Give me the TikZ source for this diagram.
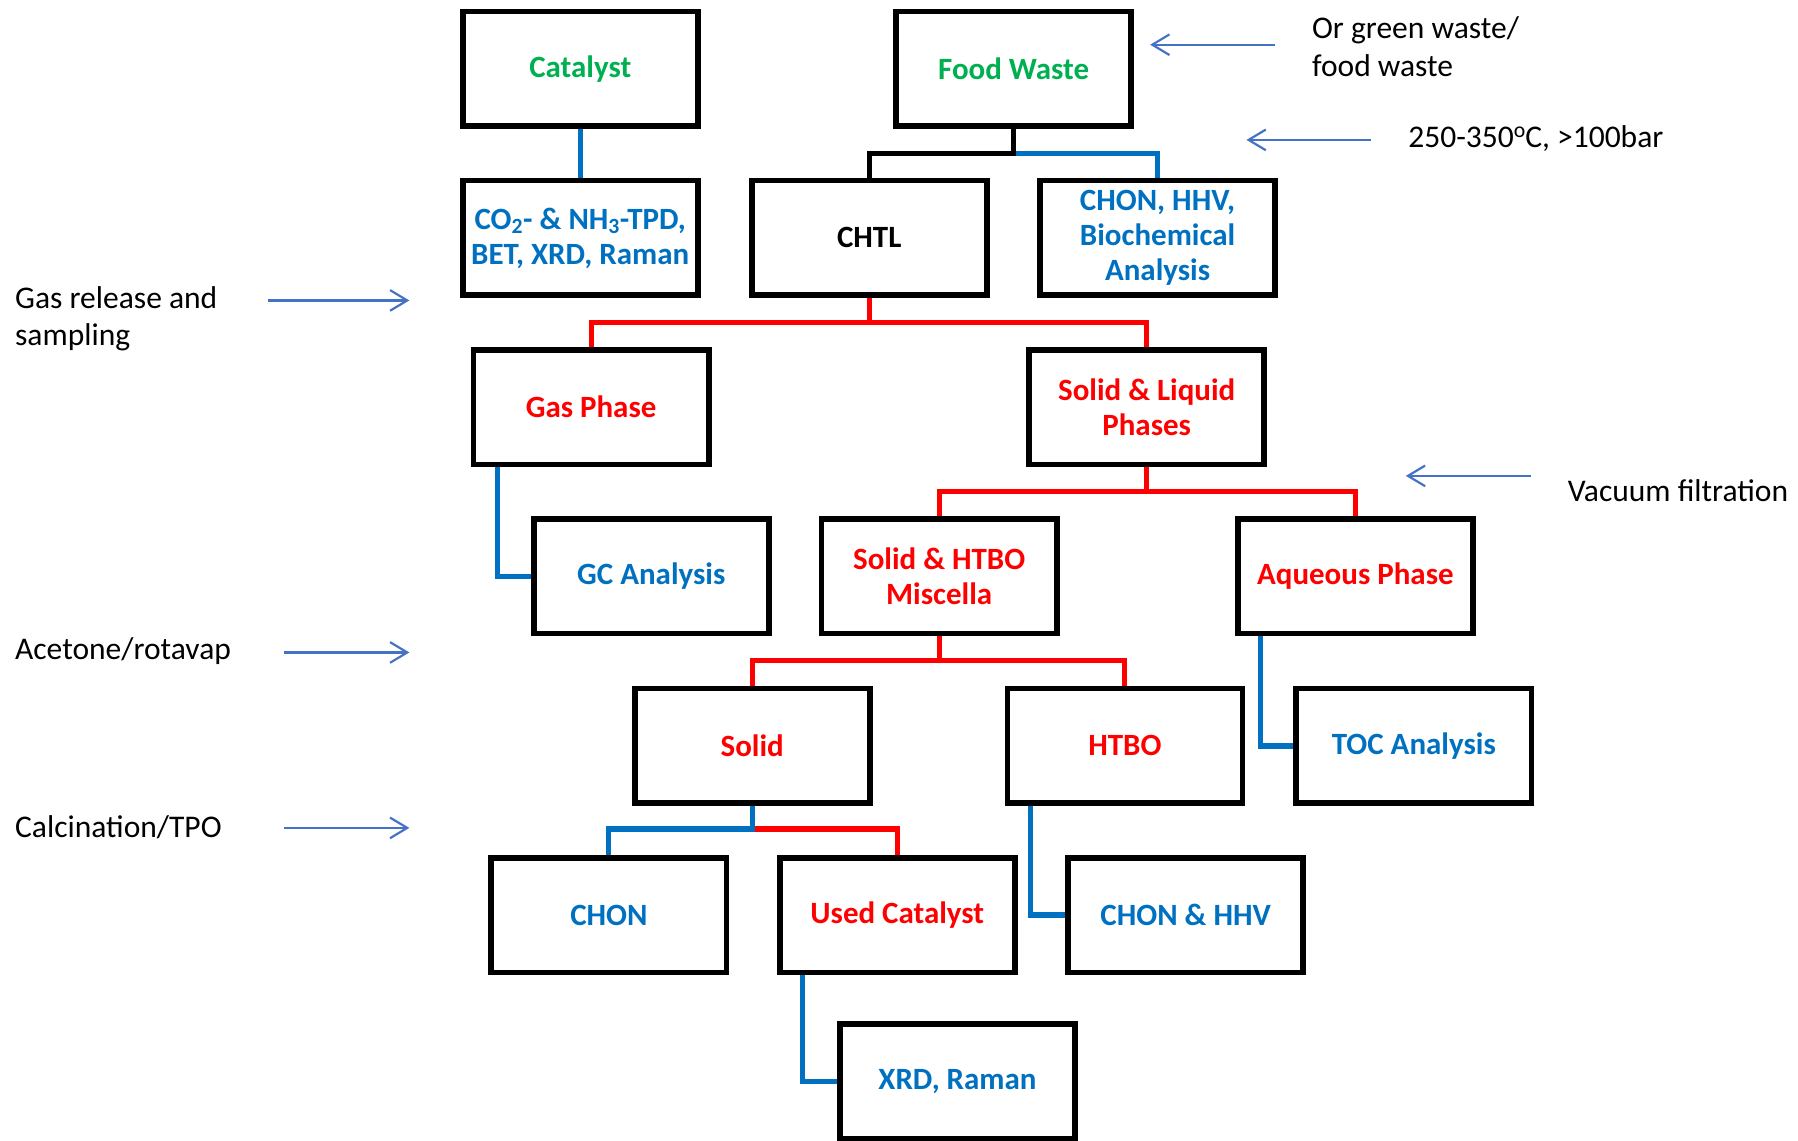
\documentclass[tikz,border=0pt]{standalone}
\usepackage{fontspec}
\setmainfont{Carlito}
\usetikzlibrary{arrows.meta}
\definecolor{cgreen}{HTML}{00B050}
\definecolor{cblue}{HTML}{0070C0}
\definecolor{cred}{HTML}{FF0000}
\definecolor{carrow}{HTML}{4472C4}
\begin{document}
\begin{tikzpicture}[x=1pt,y=-1pt,
  box/.style={draw=black, line width=5pt, minimum width=205pt, minimum height=100pt, inner sep=0pt, align=center, font=\bfseries\fontsize{27}{30.5}\selectfont},
  gtxt/.style={text=cgreen}, btxt/.style={text=cblue}, rtxt/.style={text=cred},
  bline/.style={draw=cblue, line width=4.5pt},
  rline/.style={draw=cred, line width=4.5pt},
  kline/.style={draw=black, line width=4.5pt},
  note/.style={font=\fontsize{27.5}{33}\selectfont, align=left, inner sep=0pt},
  notearrow/.style={draw=carrow, line width=1.9pt, -{Straight Barb[length=15pt,width=18pt,line width=1.9pt]}}
]
\useasboundingbox (0,0) rectangle (1568,995);
% boxes
\node[box,gtxt] (cat) at (506,60) {Catalyst};
\node[box,gtxt] (fw) at (884,60) {Food Waste};
\node[box,btxt] (tpd) at (506,207.5) {CO\textsubscript{2}- \& NH\textsubscript{3}-TPD,\\BET, XRD, Raman};
\node[box] (chtl) at (758,207.5) {CHTL};
\node[box,btxt] (chonA) at (1009.5,207.5) {CHON, HHV,\\Biochemical\\Analysis};
\node[box,rtxt] (gas) at (515.5,355) {Gas Phase};
\node[box,rtxt] (sl) at (1000,355) {Solid \& Liquid\\Phases};
\node[box,btxt] (gc) at (568,502.5) {GC Analysis};
\node[box,rtxt] (shtbo) at (819,502.5) {Solid \& HTBO\\Miscella};
\node[box,rtxt] (aq) at (1182,502.5) {Aqueous Phase};
\node[box,rtxt] (solid) at (656,650.5) {Solid};
\node[box,rtxt] (htbo) at (981,650.5) {HTBO};
\node[box,btxt] (toc) at (1233,650.5) {TOC Analysis};
\node[box,btxt] (chon) at (531,798) {CHON};
\node[box,rtxt] (used) at (782.5,798) {Used Catalyst};
\node[box,btxt] (chonB) at (1034,798) {CHON \& HHV};
\node[box,btxt] (xrd) at (835,943) {XRD, Raman};
% junctions
\coordinate (fwj) at ([yshift=-21pt]fw.south);
\coordinate (chtlj) at ([yshift=-21pt]chtl.south);
\coordinate (slj) at ([yshift=-21pt]sl.south);
\coordinate (shj) at ([yshift=-21pt]shtbo.south);
\coordinate (solj) at ([yshift=-20pt]solid.south);
% connectors
\draw[bline] (cat.south) -- (tpd.north);
\draw[bline] (fwj) -| (chonA.north);
\draw[kline] (fw.south) -- (fwj) -| (chtl.north);
\draw[rline] (chtl.south) -- (chtlj);
\draw[rline] (gas.north) |- (chtlj) -| (sl.north);
\draw[bline] ([xshift=-82pt]gas.south) |- (gc.west);
\draw[rline] (sl.south) -- (slj);
\draw[rline] (shtbo.north) |- (slj) -| (aq.north);
\draw[bline] ([xshift=-83pt]aq.south) |- (toc.west);
\draw[rline] (shtbo.south) -- (shj);
\draw[rline] (solid.north) |- (shj) -| (htbo.north);
\draw[bline] ([xshift=-82pt]htbo.south) |- (chonB.west);
\draw[rline] (solj) -| (used.north);
\draw[bline] (solid.south) -- (solj) -| (chon.north);
\draw[bline] ([xshift=-83pt]used.south) |- (xrd.west);
% side notes
\node[note,anchor=west] (n1) at (1144,41) {Or green waste/\\food waste};
\coordinate (a1s) at (1112,39); \coordinate (a1e) at (1003,39);
\draw[notearrow] (a1s) -- (a1e);
\node[note,anchor=west] (n2) at (1228,121) {250-350{\fontsize{19}{19}\selectfont\raisebox{8.5pt}{o}}C, >100bar};
\coordinate (a2s) at (1196,122); \coordinate (a2e) at (1087,122);
\draw[notearrow] (a2s) -- (a2e);
\node[note,anchor=west] (n3) at (13,278) {Gas release and\\sampling};
\coordinate (a3s) at (234,262); \coordinate (a3e) at (357,262);
\draw[notearrow] (a3s) -- (a3e);
\node[note,anchor=west] (n4) at (1367,428) {Vacuum filtration};
\coordinate (a4s) at (1335,415); \coordinate (a4e) at (1226,415);
\draw[notearrow] (a4s) -- (a4e);
\node[note,anchor=west] (n5) at (13,568) {Acetone/rotavap};
\coordinate (a5s) at (248,569); \coordinate (a5e) at (357,569);
\draw[notearrow] (a5s) -- (a5e);
\node[note,anchor=west] (n6) at (13,721) {Calcination/TPO};
\coordinate (a6s) at (248,722); \coordinate (a6e) at (357,722);
\draw[notearrow] (a6s) -- (a6e);
\end{tikzpicture}
\end{document}
